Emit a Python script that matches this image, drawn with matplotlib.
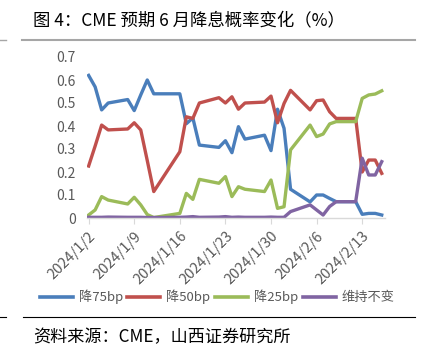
import matplotlib
matplotlib.use("Agg")
import matplotlib.pyplot as plt
import matplotlib.dates as mdates
import pandas as pd
from matplotlib.lines import Line2D

plt.rcParams['font.family'] = ['Noto Sans CJK SC', 'DejaVu Sans']

dates = ['2024-01-02', '2024-01-03', '2024-01-04', '2024-01-05', '2024-01-08',
         '2024-01-09', '2024-01-10', '2024-01-11', '2024-01-12', '2024-01-16',
         '2024-01-17', '2024-01-18', '2024-01-19', '2024-01-22', '2024-01-23',
         '2024-01-24', '2024-01-25', '2024-01-26', '2024-01-29', '2024-01-30',
         '2024-01-31', '2024-02-01', '2024-02-02', '2024-02-05', '2024-02-06',
         '2024-02-07', '2024-02-08', '2024-02-09', '2024-02-12', '2024-02-13',
         '2024-02-14', '2024-02-15', '2024-02-16']

cut75 = [0.62, 0.57, 0.47, 0.50, 0.515, 0.467, 0.535, 0.60, 0.54, 0.54,
         0.41, 0.435, 0.317, 0.307, 0.336, 0.284, 0.397, 0.343, 0.36, 0.293,
         0.473, 0.39, 0.125, 0.07, 0.10, 0.10, 0.085, 0.071, 0.071, 0.016,
         0.02, 0.02, 0.013]
cut50 = [0.226, 0.313, 0.404, 0.383, 0.387, 0.414, 0.383, 0.25, 0.115, 0.288,
         0.44, 0.433, 0.50, 0.523, 0.50, 0.527, 0.473, 0.50, 0.504, 0.53,
         0.414, 0.498, 0.555, 0.47, 0.51, 0.513, 0.462, 0.433, 0.433, 0.20,
         0.252, 0.252, 0.194]
cut25 = [0.013, 0.035, 0.093, 0.078, 0.061, 0.09, 0.057, 0.015, 0.002, 0.02,
         0.107, 0.081, 0.168, 0.151, 0.18, 0.093, 0.136, 0.125, 0.115, 0.165,
         0.042, 0.049, 0.296, 0.404, 0.354, 0.365, 0.409, 0.419, 0.419, 0.52,
         0.535, 0.539, 0.553]
hold = [0.003, 0.003, 0.003, 0.004, 0.003, 0.003, 0.003, 0.002, 0.002, 0.003,
        0.004, 0.006, 0.003, 0.004, 0.006, 0.003, 0.004, 0.003, 0.003, 0.004,
        0.003, 0.003, 0.028, 0.057, 0.035, 0.013, 0.05, 0.071, 0.071, 0.26,
        0.187, 0.187, 0.245]

labels = ['降75bp', '降50bp', '降25bp', '维持不变']
colors = ['#4A7EBB', '#C0504D', '#9BBB59', '#8064A2']

x = pd.to_datetime(dates)

fig = plt.figure(figsize=(4.26, 3.53), dpi=100)
ax = fig.add_axes([87 / 426, 1 - 218 / 353, 298 / 426, 161 / 353])

for ys, c in zip([cut75, cut50, cut25, hold], colors):
    ax.plot(x, ys, color=c, lw=2.4, solid_joinstyle='round')

ax.set_ylim(0, 0.7)
ax.set_yticks([0, 0.1, 0.2, 0.3, 0.4, 0.5, 0.6, 0.7])
ax.set_yticklabels(['0', '0.1', '0.2', '0.3', '0.4', '0.5', '0.6', '0.7'])
ax.set_xlim(pd.Timestamp('2024-01-01 18:00'), pd.Timestamp('2024-02-16 12:00'))
ax.set_xticks(pd.date_range('2024-01-02', '2024-02-13', freq='7D'))
ax.xaxis.set_major_formatter(mdates.DateFormatter('%Y/%-m/%-d'))

for s in ['top', 'right', 'left']:
    ax.spines[s].set_visible(False)
ax.spines['bottom'].set_color('#D9D9D9')
ax.spines['bottom'].set_linewidth(1)
ax.tick_params(axis='y', length=0, pad=8, labelsize=10, labelcolor='#595959')
ax.tick_params(axis='x', length=4, color='#D9D9D9', labelsize=10.5,
               labelcolor='#595959', pad=4)
for lbl in ax.get_xticklabels():
    lbl.set_rotation(45)
    lbl.set_ha('right')
    lbl.set_rotation_mode('anchor')

handles = [Line2D([0], [0], color=c, lw=2.6) for c in colors]
fig.legend(handles, labels, loc='center', bbox_to_anchor=(0.51, 1 - 297 / 353),
           ncol=4, frameon=False, handlelength=2.5, handletextpad=0.45,
           columnspacing=0.35, fontsize=9.5, labelcolor='#595959')

fig.text(33 / 426, 1 - 20 / 353, '图 4：CME 预期 6 月降息概率变化（%）',
         fontsize=12.5, va='center', ha='left', color='black')
fig.text(33 / 426, 1 - 337 / 353, '资料来源：CME，山西证券研究所',
         fontsize=12.3, va='center', ha='left', color='black')

fig.add_artist(Line2D([22 / 426, 415 / 426], [1 - 40 / 353, 1 - 40 / 353],
                      color='#A6A6A6', lw=1.5))
fig.add_artist(Line2D([0, 6 / 426], [1 - 40 / 353, 1 - 40 / 353],
                      color='#A6A6A6', lw=1.0))
fig.add_artist(Line2D([23 / 426, 415 / 426], [1 - 317 / 353, 1 - 317 / 353],
                      color='black', lw=0.8))
fig.add_artist(Line2D([0, 6 / 426], [1 - 317 / 353, 1 - 317 / 353],
                      color='black', lw=0.8))

fig.savefig('out.png', dpi=100)
